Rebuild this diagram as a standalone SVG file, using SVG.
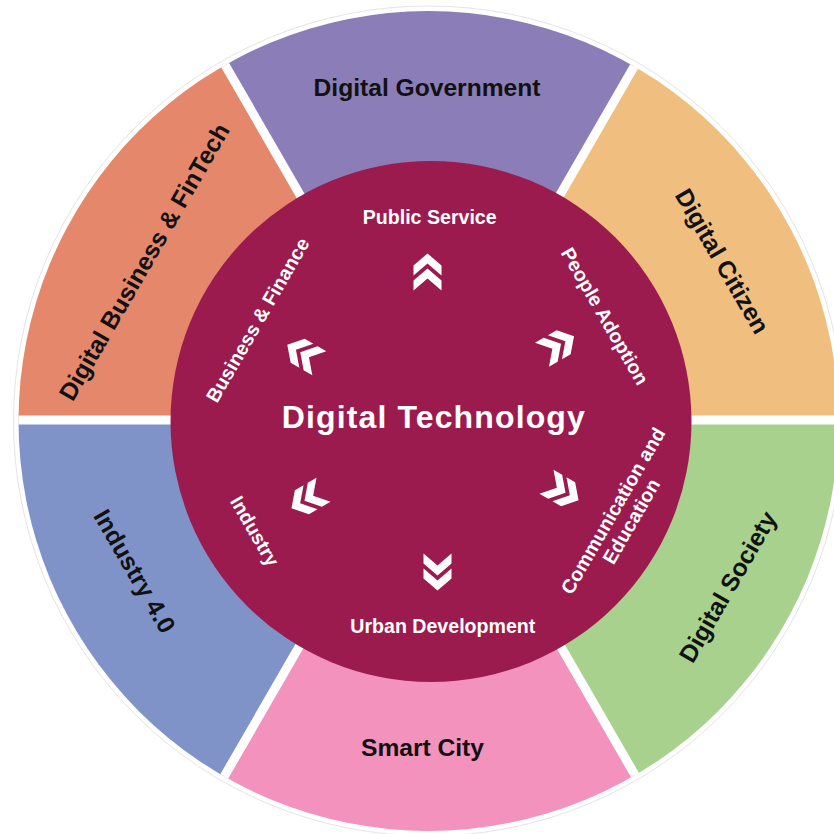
<svg xmlns="http://www.w3.org/2000/svg" width="834" height="834" viewBox="0 0 834 834">
  <style>
    text { font-family: "Liberation Sans", Arial, Helvetica, sans-serif; font-weight: bold; text-anchor: middle; }
    .outer { font-size: 24.6px; fill: #111111; }
    .inner { font-size: 19.6px; fill: #ffffff; }
    .title { font-size: 32px; fill: #ffffff; }
    .sep { stroke: #ffffff; stroke-width: 9; }
    .chev { fill: #ffffff; }
  </style>
  <defs>
    <clipPath id="outerClip">
      <circle cx="428.5" cy="421" r="410"/>
    </clipPath>
    <g id="chevron">
      <polygon points="0,-18.5 14,-6.5 14,3.5 0,-8.5 -14,3.5 -14,-6.5"/>
      <polygon points="0,-3.5 14,8.5 14,18.5 0,6.5 -14,18.5 -14,8.5"/>
    </g>
  </defs>
  <rect x="0" y="0" width="834" height="834" fill="#ffffff"/>
  <circle cx="428.5" cy="421" r="415" fill="none" stroke="#e4e4e4" stroke-width="1"/>

  <g clip-path="url(#outerClip)">
    <g id="digital-government">
      <polygon points="430,420 130,-99.6 730,-99.6" fill="#8B7EB8"/>
    </g>
    <g id="digital-citizen">
      <polygon points="430,420 730,-99.6 1030,420" fill="#F0BF7F"/>
    </g>
    <g id="digital-society">
      <polygon points="430,420 1030,420 730,939.6" fill="#A7D18D"/>
    </g>
    <g id="smart-city">
      <polygon points="430,420 730,939.6 130,939.6" fill="#F392BD"/>
    </g>
    <g id="industry-4">
      <polygon points="430,420 130,939.6 -170,420" fill="#8093C9"/>
    </g>
    <g id="digital-business">
      <polygon points="430,420 -170,420 130,-99.6" fill="#E5876B"/>
    </g>
    <g id="separators">
      <line class="sep" x1="-200" y1="420" x2="1060" y2="420"/>
      <line class="sep" x1="100" y1="-151.6" x2="760" y2="991.6"/>
      <line class="sep" x1="760" y1="-151.6" x2="100" y2="991.6"/>
    </g>
  </g>

  <g id="sector-labels">
    <text class="outer" x="427" y="96">Digital Government</text>
    <text class="outer" transform="translate(722.5,261) rotate(60)" x="0" y="8.8">Digital Citizen</text>
    <text class="outer" transform="translate(727.5,586.7) rotate(-60)" x="0" y="8.8">Digital Society</text>
    <text class="outer" x="422.5" y="756">Smart City</text>
    <text class="outer" transform="translate(135,571) rotate(60)" x="0" y="8.8">Industry 4.0</text>
    <text class="outer" transform="translate(144,261.7) rotate(-60)" x="0" y="8.8">Digital Business &amp; FinTech</text>
  </g>

  <g id="digital-technology">
    <circle cx="431" cy="421.5" r="260.5" fill="#9B1B4F"/>
    <text class="title" x="433.3" y="428.3" textLength="303" lengthAdjust="spacing">Digital Technology</text>
    <text class="inner" x="429.7" y="223.5">Public Service</text>
    <text class="inner" transform="translate(605,316) rotate(60)" x="0" y="7">People Adoption</text>
    <text class="inner" transform="translate(622,516) rotate(-60)" x="0" y="-3.7">Communication and</text>
    <text class="inner" transform="translate(622,516) rotate(-60)" x="0" y="17.5">Education</text>
    <text class="inner" x="442.8" y="632.5">Urban Development</text>
    <text class="inner" transform="translate(255,531) rotate(60)" x="0" y="7">Industry</text>
    <text class="inner" transform="translate(257.5,320) rotate(-60)" x="0" y="7">Business &amp; Finance</text>
  </g>

  <g id="connectors" class="chev">
    <use href="#chevron" transform="translate(427.5,272)"/>
    <use href="#chevron" transform="translate(558,345.5) rotate(60)"/>
    <use href="#chevron" transform="translate(562.5,491) rotate(120)"/>
    <use href="#chevron" transform="translate(437.5,572) rotate(180)"/>
    <use href="#chevron" transform="translate(307.5,499) rotate(240)"/>
    <use href="#chevron" transform="translate(303.3,354) rotate(-60)"/>
  </g>
</svg>
